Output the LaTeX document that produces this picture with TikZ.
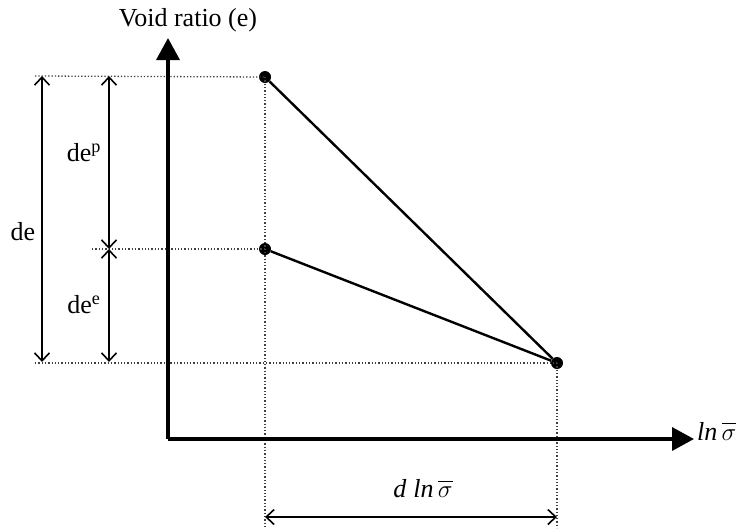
\documentclass[tikz,border=0pt]{standalone}
\usepackage{fontspec}
\setmainfont{Liberation Serif}
\usetikzlibrary{arrows.meta}
\begin{document}
\begin{tikzpicture}[x=1pt,y=-1pt,
  axis/.style={line width=3.5pt,-{Triangle[length=22pt,width=23pt]}},
  curve/.style={line width=2.4pt},
  guide/.style={line width=1.3pt,dotted,black!75},
  dim/.style={line width=1.8pt,{Straight Barb[length=8pt,width=15pt,line width=1.6pt]}-{Straight Barb[length=8pt,width=15pt,line width=1.6pt]}},
  lab/.style={font=\fontsize{26}{30}\selectfont,inner sep=0pt},
  pt/.style={circle,fill=black,inner sep=0pt,minimum size=12pt}]
\useasboundingbox (0,0) rectangle (754,528);
% points
\node[pt] (A) at (265,77) {};
\node[pt] (B) at (265,249) {};
\node[pt] (C) at (557,363) {};
\coordinate (O) at (168,439);
\coordinate (Ytip) at (168,38);
\coordinate (Xtip) at (694,439);
% guide lines
\coordinate (gA) at (35,76);
\coordinate (gB) at (92,249);
\coordinate (gC) at (35,363);
\coordinate (vA) at (265,528);
\coordinate (vC) at (557,528);
\draw[guide] (gA) -- (A.center);
\draw[guide] (gB) -- (B.center);
\draw[guide] (gC) -- (C.center);
\draw[guide] (A.center) -- (vA);
\draw[guide] (C.center) -- (vC);
% axes
\draw[axis] (O) -- (Ytip);
\draw[axis] (O) -- (Xtip);
% lines
\draw[curve] (A) -- (C);
\draw[curve] (B) -- (C);
% dimensions
\coordinate (d1t) at (42,76);
\coordinate (d1b) at (42,362);
\coordinate (d2t) at (109,76);
\coordinate (d2m) at (109,249);
\coordinate (d2b) at (109,362);
\coordinate (d3l) at (265,517);
\coordinate (d3r) at (557,517);
\draw[dim] (d1t) -- (d1b);
\draw[dim] (d2t) -- (d2m);
\draw[dim] (d2m) -- (d2b);
\draw[dim] (d3l) -- (d3r);
% labels
\node[lab] (ylab) at (188,20) {Void ratio (e)};
\node[lab,anchor=west] (xlab) at (697,431) {$\mathit{ln}\,\overline{\vphantom{t}\sigma}$};
\node[lab] (de) at (23,232) {de};
\node[lab] (dep) at (84,153) {de$^{\mathrm{p}}$};
\node[lab] (dee) at (84,305) {de$^{\mathrm{e}}$};
\node[lab] (dln) at (423,489) {$\mathit{d}\;\mathit{ln}\,\overline{\vphantom{t}\sigma}$};
\end{tikzpicture}
\end{document}
